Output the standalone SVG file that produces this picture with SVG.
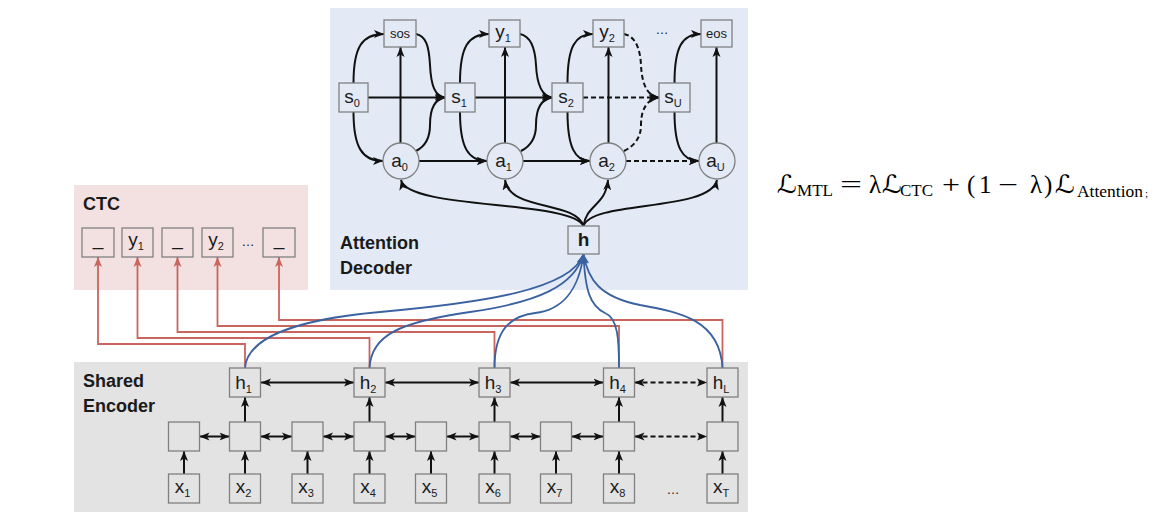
<svg xmlns="http://www.w3.org/2000/svg" width="1158" height="532" viewBox="0 0 1158 532">
<defs>
<style>
.box{stroke:#808080;stroke-width:1.3}
.fd{fill:#e3eaf5}
.fc{fill:#f3e1e1}
.fe{fill:#e3e3e3}
.t{font-family:"Liberation Sans",Arial,sans-serif;font-size:19px;fill:#1a1a1a;text-anchor:middle}
.sub{font-size:11px}
.sm{font-size:13px}
.title{font-family:"Liberation Sans",Arial,sans-serif;font-size:18px;font-weight:bold;fill:#1a1a1a}
.k{fill:none;stroke:#111;stroke-width:2;marker-end:url(#ak)}
.kd{fill:none;stroke:#111;stroke-width:2;stroke-dasharray:5 3;marker-end:url(#ak)}
.kk{fill:none;stroke:#111;stroke-width:2;marker-start:url(#ak);marker-end:url(#ak)}
.kkd{fill:none;stroke:#111;stroke-width:2;stroke-dasharray:5 3;marker-start:url(#ak);marker-end:url(#ak)}
.r{fill:none;stroke:#c9645e;stroke-width:1.8;marker-end:url(#ar)}
.b{fill:none;stroke:#3b62a0;stroke-width:1.8;marker-end:url(#ab)}
.m{font-family:"Liberation Serif","DejaVu Serif","DejaVu Sans",serif;font-size:25px;fill:#000}
.ms{font-size:17px}
</style>
<marker id="ak" viewBox="0 0 10 10" refX="10" refY="5" markerWidth="10" markerHeight="10" markerUnits="userSpaceOnUse" orient="auto-start-reverse"><path d="M0,1 L10,5 L0,9 L2.5,5 z" fill="#111"/></marker>
<marker id="ar" viewBox="0 0 10 10" refX="10" refY="5" markerWidth="10" markerHeight="10" markerUnits="userSpaceOnUse" orient="auto-start-reverse"><path d="M0,1 L10,5 L0,9 L2.5,5 z" fill="#c9645e"/></marker>
<marker id="ab" viewBox="0 0 10 10" refX="10" refY="5" markerWidth="10" markerHeight="10" markerUnits="userSpaceOnUse" orient="auto-start-reverse"><path d="M0,1 L10,5 L0,9 L2.5,5 z" fill="#3b62a0"/></marker>
</defs>
<rect width="1158" height="532" fill="#ffffff"/>

<g id="panels">
<rect id="ctc-panel" x="74" y="185" width="234" height="105" fill="#f3e1e1"/>
<rect id="decoder-panel" x="330" y="8" width="418" height="282" fill="#e3eaf5"/>
<rect id="encoder-panel" x="74" y="362" width="674" height="150" fill="#e3e3e3"/>
<text class="title" x="83" y="210">CTC</text>
<text class="title" x="340" y="249">Attention</text>
<text class="title" x="340" y="274">Decoder</text>
<text class="title" x="83" y="387">Shared</text>
<text class="title" x="83" y="412">Encoder</text>
</g>

<g id="connectors">
<path class="k" d="M368,97.5 H445"/>
<path class="k" d="M475,97.5 H552"/>
<path class="kd" d="M583,97.5 H659"/>
<path class="k" d="M419,161 H487"/>
<path class="k" d="M523,161 H590"/>
<path class="kd" d="M626,161 H699"/>
<path class="k" d="M400.5,143 V47"/>
<path class="k" d="M505,143 V47"/>
<path class="k" d="M608.5,143 V47"/>
<path class="k" d="M716.5,143 V47"/>
<path class="k" d="M353.5,83 C353.5,47 362,34 384,34"/>
<path class="k" d="M353.5,112 C353.5,147 362,161 383,161"/>
<path class="k" d="M460,83 C460,47 468,34 489,34"/>
<path class="k" d="M460,112 C460,147 468,161 487,161"/>
<path class="k" d="M567.5,83 C567.5,47 575,34 593,34"/>
<path class="k" d="M567.5,112 C567.5,147 575,161 590,161"/>
<path class="k" d="M674.5,83 C674.5,47 682,34 701,34"/>
<path class="k" d="M674.5,112 C674.5,147 682,161 699,161"/>
<path class="k" d="M416,34 C426,36 429,46 430,65 C431,86 435,96 445,97.5"/>
<path class="k" d="M416,151 C426,146 430,138 430,125 C430,108 435,99 445,97.5"/>
<path class="k" d="M520,34 C530,36 535,46 536,65 C537,86 542,96 552,97.5"/>
<path class="k" d="M521,151 C531,146 536,138 536,125 C536,108 542,99 552,97.5"/>
<path class="kd" d="M624,34 C634,36 640,46 641,65 C642,86 648,96 659,97.5"/>
<path class="kd" d="M624,151 C634,146 641,138 641,125 C641,108 648,99 659,97.5"/>
<path class="k" d="M583.5,226 C572,200 408,210 401,180"/>
<path class="k" d="M583.5,226 C575,200 510,212 505,180"/>
<path class="k" d="M583.5,226 C586,205 606,205 608,180"/>
<path class="k" d="M583.5,226 C592,200 710,212 717,180"/>
<path class="r" d="M245,368 V344 H98 V257"/>
<path class="r" d="M369.5,368 V338 H137.5 V257"/>
<path class="r" d="M494.5,368 V332 H177.5 V257"/>
<path class="r" d="M619,368 V326 H217.5 V257"/>
<path class="r" d="M722.5,368 V320 H279 V257"/>
<path class="b" d="M245,368 C247,340 290,320 380,312 C480,303 572,290 583.5,254"/>
<path class="b" d="M369.5,368 C371,335 400,322 470,312 C540,302 575,285 583.5,254"/>
<path class="b" d="M494.5,368 C494.5,330 510,316 535,313 C562,310 579,290 583.5,254"/>
<path class="b" d="M619,368 C619,340 618,318 605,313 C590,306 585,290 583.5,254"/>
<path class="b" d="M722.5,368 C720,320 680,312 640,305 C600,297 588,280 583.5,254"/>
<path class="kk" d="M261,382.5 H354"/>
<path class="kk" d="M385,382.5 H479"/>
<path class="kk" d="M510,382.5 H603.5"/>
<path class="kkd" d="M634.5,382.5 H707"/>
<path class="kk" d="M199.5,436.5 H229.5"/>
<path class="kk" d="M260.5,436.5 H292"/>
<path class="kk" d="M323,436.5 H354"/>
<path class="kk" d="M385,436.5 H415.5"/>
<path class="kk" d="M446.5,436.5 H479"/>
<path class="kk" d="M510,436.5 H540.5"/>
<path class="kk" d="M571.5,436.5 H603.5"/>
<path class="kkd" d="M634.5,436.5 H707"/>
<path class="k" d="M184,474 V451"/>
<path class="k" d="M245,474 V451"/>
<path class="k" d="M307.5,474 V451"/>
<path class="k" d="M369.5,474 V451"/>
<path class="k" d="M431,474 V451"/>
<path class="k" d="M494.5,474 V451"/>
<path class="k" d="M556,474 V451"/>
<path class="k" d="M619,474 V451"/>
<path class="k" d="M722.5,474 V451"/>
<path class="k" d="M245,422 V397"/>
<path class="k" d="M369.5,422 V397"/>
<path class="k" d="M494.5,422 V397"/>
<path class="k" d="M619,422 V397"/>
<path class="k" d="M722.5,422 V397"/>
</g>

<g id="n-sos"><rect class="box fd" x="384" y="20" width="32" height="27"/><text class="t sm" x="400" y="38">sos</text></g>
<g id="n-y1"><rect class="box fd" x="489" y="20" width="31" height="27"/><text class="t" x="503" y="38">y<tspan class="sub" dy="4">1</tspan></text></g>
<g id="n-y2"><rect class="box fd" x="593" y="20" width="31" height="27"/><text class="t" x="607" y="38">y<tspan class="sub" dy="4">2</tspan></text></g>
<g id="n-dots-dec"><text class="t sm" x="662" y="34">…</text></g>
<g id="n-eos"><rect class="box fd" x="701" y="20" width="31" height="27"/><text class="t sm" x="716.5" y="38">eos</text></g>
<g id="n-s0"><rect class="box fd" x="339" y="83" width="29" height="29"/><text class="t" x="352" y="103">s<tspan class="sub" dy="4">0</tspan></text></g>
<g id="n-s1"><rect class="box fd" x="445" y="83" width="30" height="29"/><text class="t" x="459" y="103">s<tspan class="sub" dy="4">1</tspan></text></g>
<g id="n-s2"><rect class="box fd" x="552" y="83" width="31" height="29"/><text class="t" x="566" y="103">s<tspan class="sub" dy="4">2</tspan></text></g>
<g id="n-sU"><rect class="box fd" x="659" y="83" width="31" height="29"/><text class="t" x="673" y="103">s<tspan class="sub" dy="4">U</tspan></text></g>
<g id="n-a0"><circle class="box fd" cx="401" cy="161" r="18"/><text class="t" x="399.5" y="167">a<tspan class="sub" dy="4">0</tspan></text></g>
<g id="n-a1"><circle class="box fd" cx="505" cy="161" r="18"/><text class="t" x="503.5" y="167">a<tspan class="sub" dy="4">1</tspan></text></g>
<g id="n-a2"><circle class="box fd" cx="608" cy="161" r="18"/><text class="t" x="606.5" y="167">a<tspan class="sub" dy="4">2</tspan></text></g>
<g id="n-aU"><circle class="box fd" cx="717" cy="161" r="18"/><text class="t" x="715.5" y="167">a<tspan class="sub" dy="4">U</tspan></text></g>
<g id="n-h"><rect class="box fd" x="568" y="226" width="31" height="28"/><text class="t" x="583.5" y="246" font-weight="bold" font-size="16">h</text></g>

<g id="c-1"><rect class="box fc" x="82" y="228" width="32" height="29"/><text class="t" x="98" y="245" font-size="16">_</text></g>
<g id="c-y1"><rect class="box fc" x="122" y="228" width="31" height="29"/><text class="t" x="136" y="246">y<tspan class="sub" dy="4">1</tspan></text></g>
<g id="c-2"><rect class="box fc" x="162" y="228" width="31" height="29"/><text class="t" x="177.5" y="245" font-size="16">_</text></g>
<g id="c-y2"><rect class="box fc" x="202" y="228" width="31" height="29"/><text class="t" x="216" y="246">y<tspan class="sub" dy="4">2</tspan></text></g>
<g id="c-dots"><text class="t sm" x="248" y="246">…</text></g>
<g id="c-3"><rect class="box fc" x="263" y="228" width="32" height="29"/><text class="t" x="279" y="245" font-size="16">_</text></g>

<g id="e-h1"><rect class="box fe" x="229.5" y="368" width="31" height="29"/><text class="t" x="243.5" y="389">h<tspan class="sub" dy="4">1</tspan></text></g>
<g id="e-h2"><rect class="box fe" x="354" y="368" width="31" height="29"/><text class="t" x="368" y="389">h<tspan class="sub" dy="4">2</tspan></text></g>
<g id="e-h3"><rect class="box fe" x="479" y="368" width="31" height="29"/><text class="t" x="493" y="389">h<tspan class="sub" dy="4">3</tspan></text></g>
<g id="e-h4"><rect class="box fe" x="603.5" y="368" width="31" height="29"/><text class="t" x="617.5" y="389">h<tspan class="sub" dy="4">4</tspan></text></g>
<g id="e-hL"><rect class="box fe" x="707" y="368" width="31" height="29"/><text class="t" x="721" y="389">h<tspan class="sub" dy="4">L</tspan></text></g>

<g id="e-m1"><rect class="box fe" x="168.5" y="422" width="31" height="29"/></g>
<g id="e-m2"><rect class="box fe" x="229.5" y="422" width="31" height="29"/></g>
<g id="e-m3"><rect class="box fe" x="292" y="422" width="31" height="29"/></g>
<g id="e-m4"><rect class="box fe" x="354" y="422" width="31" height="29"/></g>
<g id="e-m5"><rect class="box fe" x="415.5" y="422" width="31" height="29"/></g>
<g id="e-m6"><rect class="box fe" x="479" y="422" width="31" height="29"/></g>
<g id="e-m7"><rect class="box fe" x="540.5" y="422" width="31" height="29"/></g>
<g id="e-m8"><rect class="box fe" x="603.5" y="422" width="31" height="29"/></g>
<g id="e-mT"><rect class="box fe" x="707" y="422" width="31" height="29"/></g>

<g id="e-x1"><rect class="box fe" x="168.5" y="474" width="31" height="29"/><text class="t" x="182.5" y="493">x<tspan class="sub" dy="4">1</tspan></text></g>
<g id="e-x2"><rect class="box fe" x="229.5" y="474" width="31" height="29"/><text class="t" x="243.5" y="493">x<tspan class="sub" dy="4">2</tspan></text></g>
<g id="e-x3"><rect class="box fe" x="292" y="474" width="31" height="29"/><text class="t" x="306" y="493">x<tspan class="sub" dy="4">3</tspan></text></g>
<g id="e-x4"><rect class="box fe" x="354" y="474" width="31" height="29"/><text class="t" x="368" y="493">x<tspan class="sub" dy="4">4</tspan></text></g>
<g id="e-x5"><rect class="box fe" x="415.5" y="474" width="31" height="29"/><text class="t" x="429.5" y="493">x<tspan class="sub" dy="4">5</tspan></text></g>
<g id="e-x6"><rect class="box fe" x="479" y="474" width="31" height="29"/><text class="t" x="493" y="493">x<tspan class="sub" dy="4">6</tspan></text></g>
<g id="e-x7"><rect class="box fe" x="540.5" y="474" width="31" height="29"/><text class="t" x="554.5" y="493">x<tspan class="sub" dy="4">7</tspan></text></g>
<g id="e-x8"><rect class="box fe" x="603.5" y="474" width="31" height="29"/><text class="t" x="617.5" y="493">x<tspan class="sub" dy="4">8</tspan></text></g>
<g id="e-dots"><text class="t sm" x="673" y="494">…</text></g>
<g id="e-xT"><rect class="box fe" x="707" y="474" width="31" height="29"/><text class="t" x="721" y="493">x<tspan class="sub" dy="4">T</tspan></text></g>

<g id="formula" class="m">
<text x="777" y="193" textLength="20" lengthAdjust="spacingAndGlyphs">ℒ</text>
<text x="797" y="196" class="ms" textLength="36" lengthAdjust="spacingAndGlyphs">MTL</text>
<text x="840" y="193" textLength="22" lengthAdjust="spacingAndGlyphs">=</text>
<text x="869" y="193">λ</text>
<text x="882" y="193" textLength="20" lengthAdjust="spacingAndGlyphs">ℒ</text>
<text x="900" y="196" class="ms" textLength="33" lengthAdjust="spacingAndGlyphs">CTC</text>
<text x="942" y="193" textLength="18" lengthAdjust="spacingAndGlyphs">+</text>
<text x="967" y="193">(</text>
<text x="979" y="193">1</text>
<text x="998" y="193" textLength="20" lengthAdjust="spacingAndGlyphs">−</text>
<text x="1030" y="193">λ</text>
<text x="1044" y="193">)</text>
<text x="1055" y="193" textLength="20" lengthAdjust="spacingAndGlyphs">ℒ</text>
<text x="1077" y="197" class="ms" textLength="66" lengthAdjust="spacingAndGlyphs">Attention</text>
<text x="1145" y="197" font-size="11">;</text>
</g>
</svg>
